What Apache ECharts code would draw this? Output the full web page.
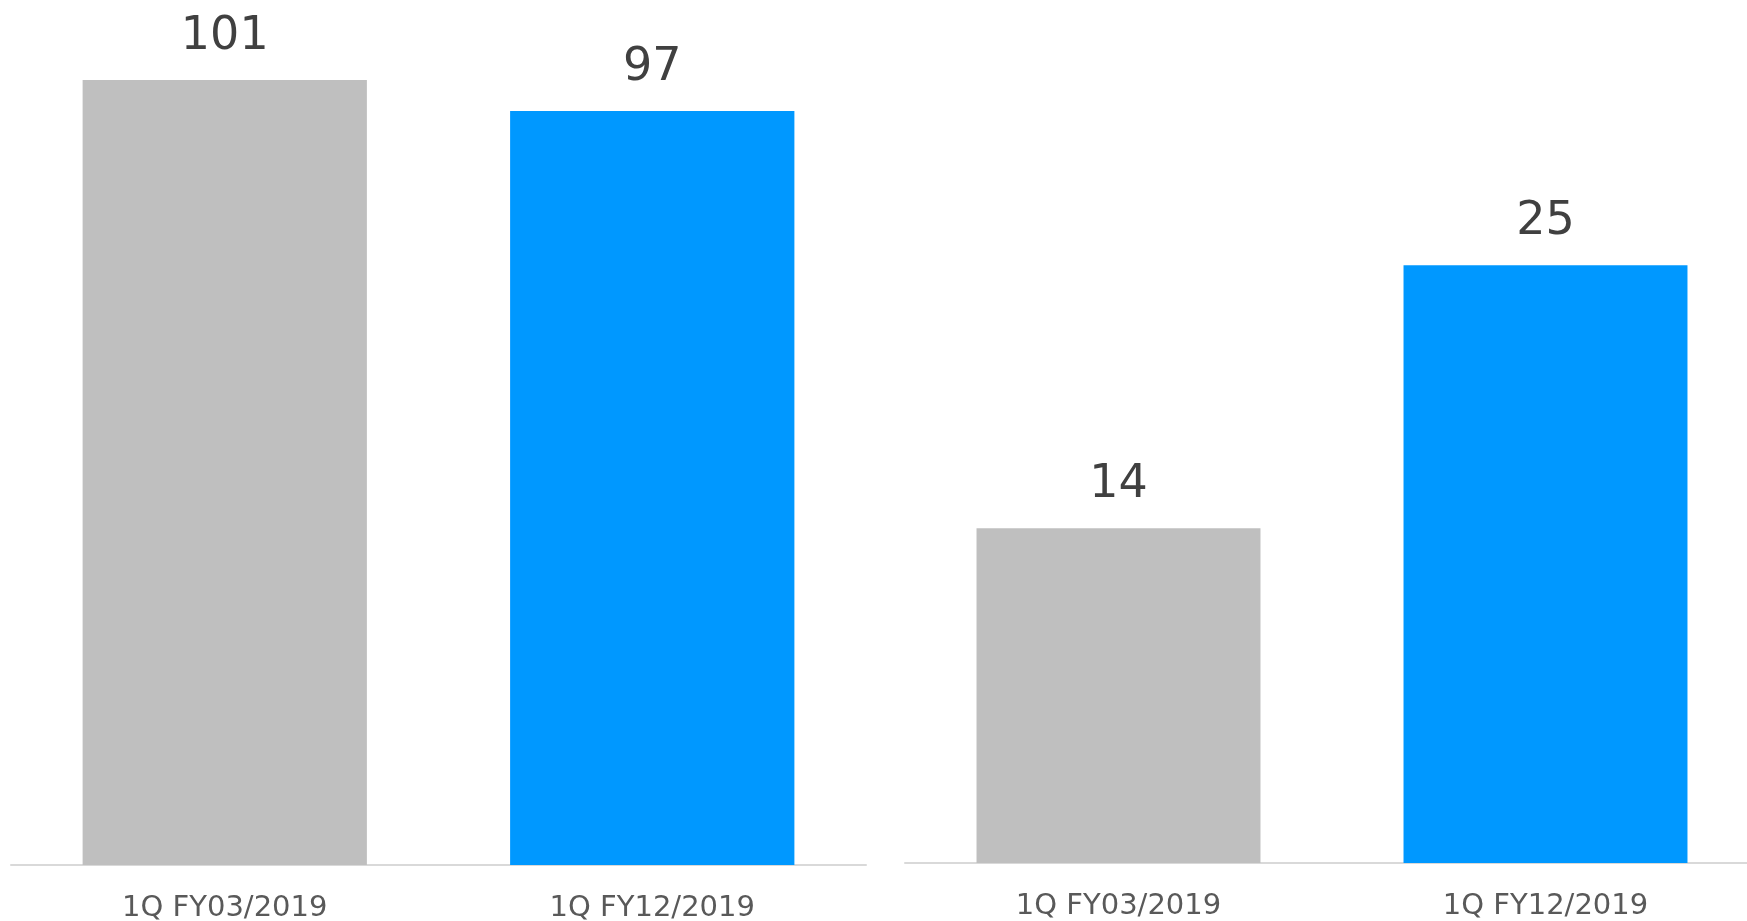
<!DOCTYPE html>
<html>
<head>
<meta charset="utf-8">
<script src="https://cdn.jsdelivr.net/npm/echarts@6/dist/echarts.min.js"></script>
<style>
  html, body { margin: 0; padding: 0; background: #fff; }
  #chart { width: 1747px; height: 921px; }
</style>
</head>
<body>
<div id="chart"></div>
<script>
const categories = ['1Q FY03/2019', '1Q FY12/2019'];
const leftValues = [101, 97];
const rightValues = [14, 25];
const barColors = ['#bfbfbf', '#0098ff'];

const chart = echarts.init(document.getElementById('chart'));

const font = 'DejaVu Sans, Verdana, sans-serif';

function xAxis(gridIndex) {
  return {
    type: 'category',
    gridIndex,
    data: categories,
    axisLine: { lineStyle: { color: '#d9d9d9', width: 2 } },
    axisTick: { show: false },
    axisLabel: { color: '#595959', fontSize: 29, fontFamily: font, margin: 29 }
  };
}

function yAxis(gridIndex, max) {
  return {
    type: 'value',
    gridIndex,
    min: 0,
    max,
    show: false,
    splitLine: { show: false }
  };
}

function barSeries(idx, values) {
  return {
    type: 'bar',
    xAxisIndex: idx,
    yAxisIndex: idx,
    barWidth: '66.5%',
    data: values.map((v, i) => ({ value: v, itemStyle: { color: barColors[i] } })),
    label: {
      show: true,
      position: 'top',
      distance: 20,
      color: '#404040',
      fontSize: 46,
      fontFamily: font
    }
  };
}

chart.setOption({
  animation: false,
  grid: [
    { left: 11, width: 855, top: 10, bottom: 56, outerBoundsMode: 'none' },
    { left: 905, width: 854, top: 26, bottom: 58, outerBoundsMode: 'none' }
  ],
  xAxis: [xAxis(0), xAxis(1)],
  yAxis: [yAxis(0, 110), yAxis(1, 35)],
  series: [barSeries(0, leftValues), barSeries(1, rightValues)]
});
</script>
</body>
</html>
